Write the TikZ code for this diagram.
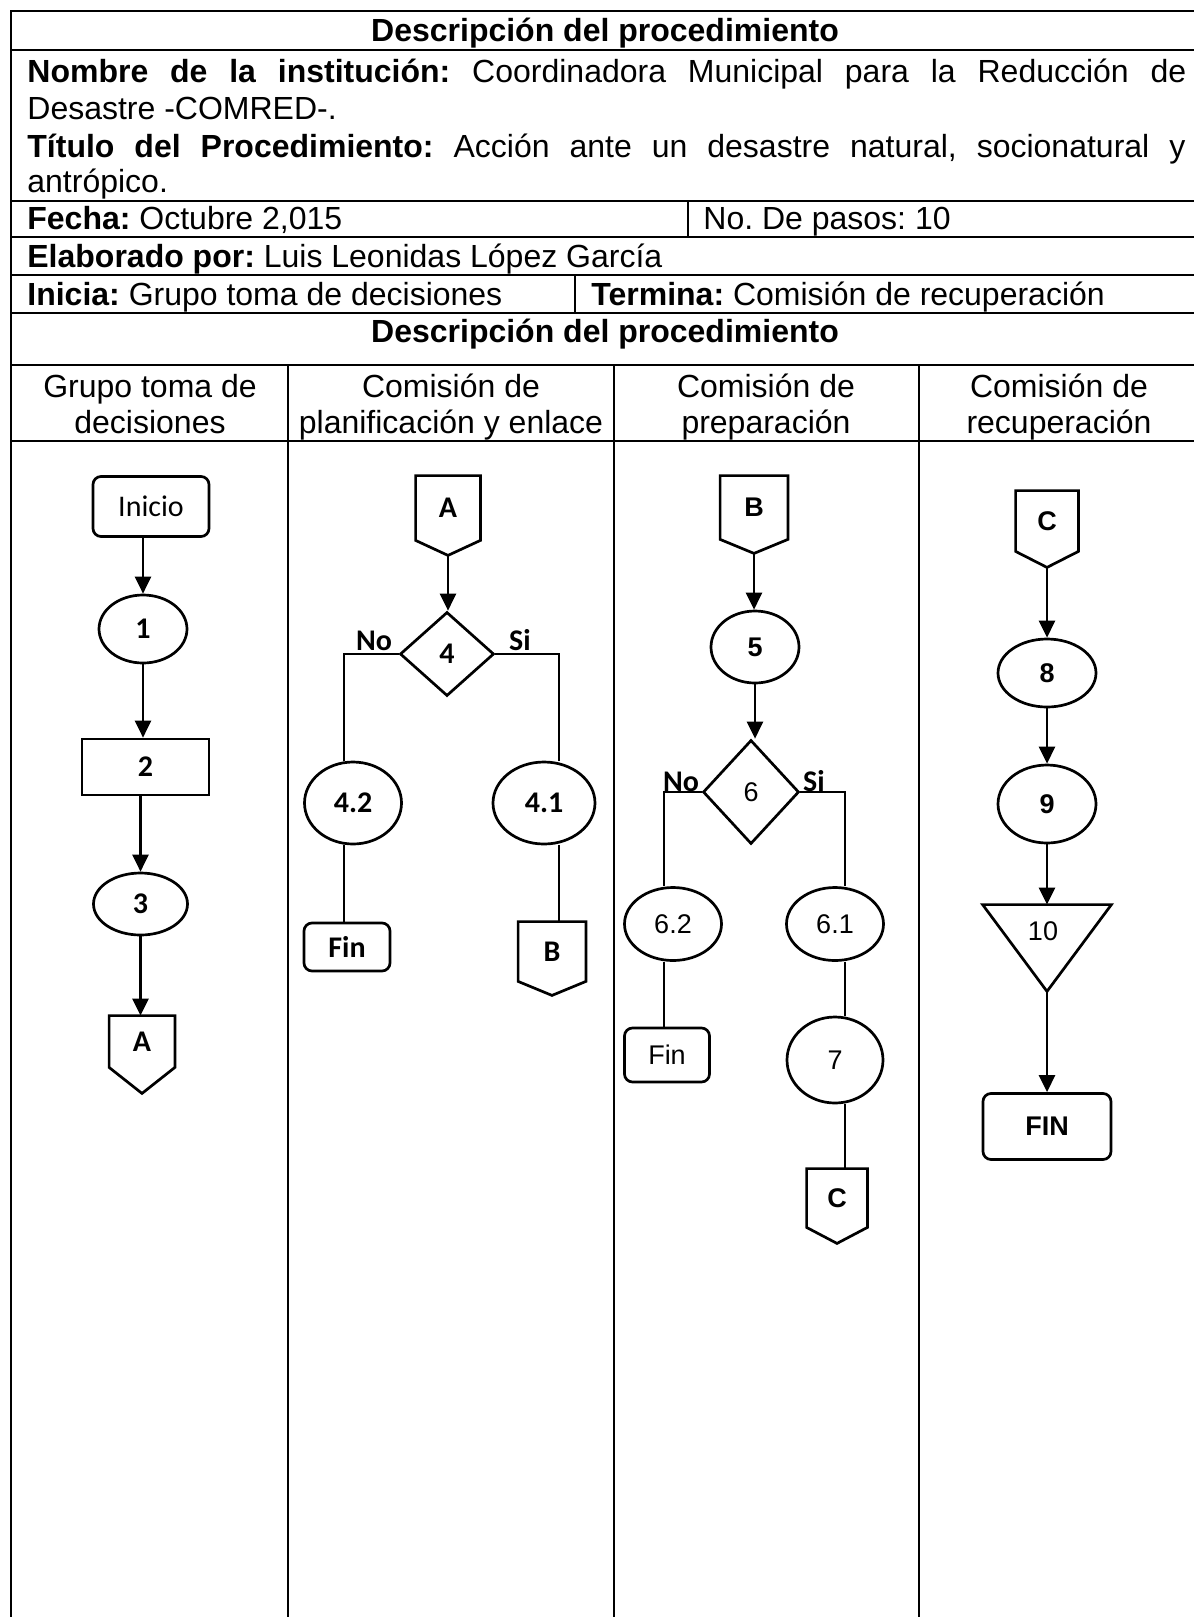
\documentclass[tikz,border=0pt]{standalone}
\usepackage{fontspec}
\setmainfont{Liberation Sans}
\newfontfamily\calibri{Carlito}
\usetikzlibrary{shapes.geometric,arrows.meta}
\frenchspacing

% conector de pagina: nodo #1, punta de altura #2
\newcommand{\conector}[2]{%
  \draw[linea] (#1.south west) -- (#1.north west) -- (#1.north east)
    -- (#1.south east) -- ([yshift=-#2]#1.south) -- cycle;
  \coordinate (#1-tip) at ([yshift=-#2]#1.south);%
}

\begin{document}
\begin{tikzpicture}[x=0.5pt,y=-0.5pt,>={Triangle[width=8pt,length=8.5pt]},
	tabla/.style={line width=1pt},
	linea/.style={line width=1.35pt},
	fila/.style={anchor=base west,inner sep=0pt,font=\fontsize{16}{18}\selectfont},
	cabeza/.style={anchor=base,inner sep=0pt,font=\fontsize{16}{18}\selectfont},
	ari/.style={font=\fontsize{13.5}{15}\selectfont},
	arib/.style={font=\bfseries\fontsize{13.5}{15}\selectfont},
	cal/.style={font=\calibri\fontsize{15}{17}\selectfont},
	calb/.style={font=\calibri\bfseries\fontsize{15}{17}\selectfont},
	elip/.style={ellipse,draw,linea,inner sep=0pt},
	caja/.style={rectangle,draw,linea,inner sep=0pt},
	term/.style={rectangle,rounded corners=4pt,draw,linea,inner sep=0pt},
	deci/.style={diamond,draw,linea,inner sep=0pt},
	conn/.style={rectangle,inner sep=0pt},
	etiq/.style={anchor=base,inner sep=0pt}]
	\useasboundingbox (0,0) rectangle (1194,1617);
	% tabla
	\draw[tabla] (11,1617) -- (11,11) -- (1194,11);
	\foreach \y in {50,201,237,275,313,365,441}{
		\draw[tabla] (11,\y) -- (1194,\y);
	}
	\draw[tabla] (688,201) -- (688,237);
	\draw[tabla] (575,275) -- (575,313);
	\foreach \x in {288,614,919}{
		\draw[tabla] (\x,365) -- (\x,1617);%columnas
	}
	% encabezado
	\node[cabeza] (titulo) at (605,41) {\textbf{Descripción del procedimiento}};
	\node[fila] (nombre) at (27,82.5) {\makebox[579.5pt][s]{\textbf{Nombre de la institución:} Coordinadora Municipal para la Reducción de}};
	\node[fila] (nombre2) at (27,119.5) {Desastre -COMRED-.};
	\node[fila] (proc) at (27,157) {\makebox[579pt][s]{\textbf{Título del Procedimiento:} Acción ante un desastre natural, socionatural y}};
	\node[fila] (proc2) at (27,192) {antrópico.};
	\node[fila] (fecha) at (27,229) {\textbf{Fecha:} Octubre 2,015};
	\node[fila] (pasos) at (703,229) {No. De pasos: 10};
	\node[fila] (elab) at (27,267) {\textbf{Elaborado por:} Luis Leonidas López García};
	\node[fila] (inicia) at (27,305) {\textbf{Inicia:} Grupo toma de decisiones};
	\node[fila] (termina) at (591,305) {\textbf{Termina:} Comisión de recuperación};
	\node[cabeza] (titulo2) at (605,342) {\textbf{Descripción del procedimiento}};
	\node[cabeza] (col1a) at (150,397) {Grupo toma de};
	\node[cabeza] (col1b) at (150,433) {decisiones};
	\node[cabeza] (col2a) at (451,397) {Comisión de};
	\node[cabeza] (col2b) at (451,433) {planificación y enlace};
	\node[cabeza] (col3a) at (766,397) {Comisión de};
	\node[cabeza] (col3b) at (766,433) {preparación};
	\node[cabeza] (col4a) at (1059,397) {Comisión de};
	\node[cabeza] (col4b) at (1059,433) {recuperación};
	
	% grupo toma de decisiones
	\node[term,cal,minimum width=58pt,minimum height=30pt] (inicio) at (151,506.5) {Inicio};
	\node[elip,calb,minimum width=44pt,minimum height=34pt] (p1) at (143,629) {1};
	\node[caja,calb,minimum width=63.5pt,minimum height=28pt] (p2) at (145.5,767) {2};
	\node[elip,calb,minimum width=47pt,minimum height=31pt] (p3) at (140.5,904) {3};
	\node[conn,calb,minimum width=32.5pt,minimum height=25.5pt] (cA1) at (142,1041.5) {A};
	\conector{cA1}{13pt}
	\draw[linea,->] (inicio.south -| p1) -- (p1.north);
	\draw[linea,->] (p1.south) -- (p1.south |- p2.north);
	\draw[linea,->] (p2.south -| p3) -- (p3.north);
	\draw[linea,->] (p3.south) -- (p3.south |- cA1.north);
	
	% comision de planificacion y enlace
	\node[conn,calb,minimum width=32pt,minimum height=32pt] (cA2) at (448,508) {A};
	\conector{cA2}{7.5pt}
	\node[deci,calb,minimum width=47pt,minimum height=42pt] (d4) at (447,654) {4};
	\node[elip,calb,minimum width=48.5pt,minimum height=41pt] (e42) at (353,803) {4.2};
	\node[elip,calb,minimum width=51pt,minimum height=41pt] (e41) at (544,803) {4.1};
	\node[term,calb,minimum width=43pt,minimum height=24pt] (fin2) at (347,947) {Fin};
	\node[conn,calb,minimum width=33.5pt,minimum height=29.5pt] (cB2) at (552,951.5) {B};
	\conector{cB2}{7pt}
	\node[etiq,calb] (no4) at (374,650) {No};
	\node[etiq,calb] (si4) at (520,650) {Si};
	\draw[linea,->] (cA2-tip) -- (cA2-tip |- d4.north);
	\draw[linea] (d4.west) -| ([xshift=-4.5pt]e42.north);
	\draw[linea] ([xshift=-4.5pt]e42.south) -- ([xshift=-4.5pt]e42.south |- fin2.north);
	\draw[linea] (d4.east) -| ([xshift=7.5pt]e41.north);
	\draw[linea] ([xshift=7.5pt]e41.south) -- ([xshift=7.5pt]e41.south |- cB2.north);
	
	% comision de preparacion
	\node[conn,arib,minimum width=33.5pt,minimum height=31.5pt] (cB3) at (754,507.5) {B};
	\conector{cB3}{7pt}
	\node[elip,arib,minimum width=44pt,minimum height=36pt] (e5) at (755,647) {5};
	\node[deci,ari,minimum width=48pt,minimum height=52pt] (d6) at (751,792) {6};
	\node[elip,ari,minimum width=48.5pt,minimum height=36.5pt] (e62) at (673,924) {6.2};
	\node[elip,ari,minimum width=48.5pt,minimum height=36.5pt] (e61) at (835,924) {6.1};
	\node[term,ari,minimum width=42.5pt,minimum height=27pt] (fin3) at (667,1055) {Fin};
	\node[elip,ari,minimum width=48pt,minimum height=43pt] (e7) at (835,1060) {7};
	\node[conn,arib,minimum width=30pt,minimum height=29pt] (cC3) at (837,1198) {C};
	\conector{cC3}{8pt}
	\node[etiq,calb] (no6) at (681,791) {No};
	\node[etiq,calb] (si6) at (814,791) {Si};
	\draw[linea,->] (cB3-tip) -- (cB3-tip |- e5.north);
	\draw[linea,->] (e5.south) -- (e5.south |- d6.north);
	\draw[linea] (d6.west) -| ([xshift=-4.5pt]e62.north);
	\draw[linea] ([xshift=-4.5pt]e62.south) -- ([xshift=-4.5pt]e62.south |- fin3.north);
	\draw[linea] (d6.east) -| ([xshift=5pt]e61.north);
	\draw[linea] ([xshift=5pt]e61.south) -- ([xshift=5pt]e61.south |- e7.north);
	\draw[linea] ([xshift=5pt]e7.south) -- ([xshift=5pt]e7.south |- cC3.north);
	
	% comision de recuperacion
	\node[conn,arib,minimum width=31pt,minimum height=30pt] (cC4) at (1047,521) {C};
	\conector{cC4}{8pt}
	\node[elip,arib,minimum width=49pt,minimum height=34pt] (e8) at (1047,673) {8};
	\node[elip,arib,minimum width=49pt,minimum height=39pt] (e9) at (1047,804) {9};
	\node[conn,minimum width=64pt,minimum height=43pt] (t10) at (1047,948) {};
	\draw[linea] (t10.north west) -- (t10.north east) -- (t10.south) -- cycle;
	\node[ari,inner sep=0pt] (n10) at (1043,931) {10};
	\node[term,arib,minimum width=64pt,minimum height=33pt] (finF) at (1047,1126.5) {FIN};
	\draw[linea,->] (cC4-tip) -- (cC4-tip |- e8.north);
	\draw[linea,->] (e8.south) -- (e9.north);
	\draw[linea,->] (e9.south) -- (t10.north);
	\draw[linea,->] (t10.south) -- (finF.north);
	
\end{tikzpicture}
\end{document}
